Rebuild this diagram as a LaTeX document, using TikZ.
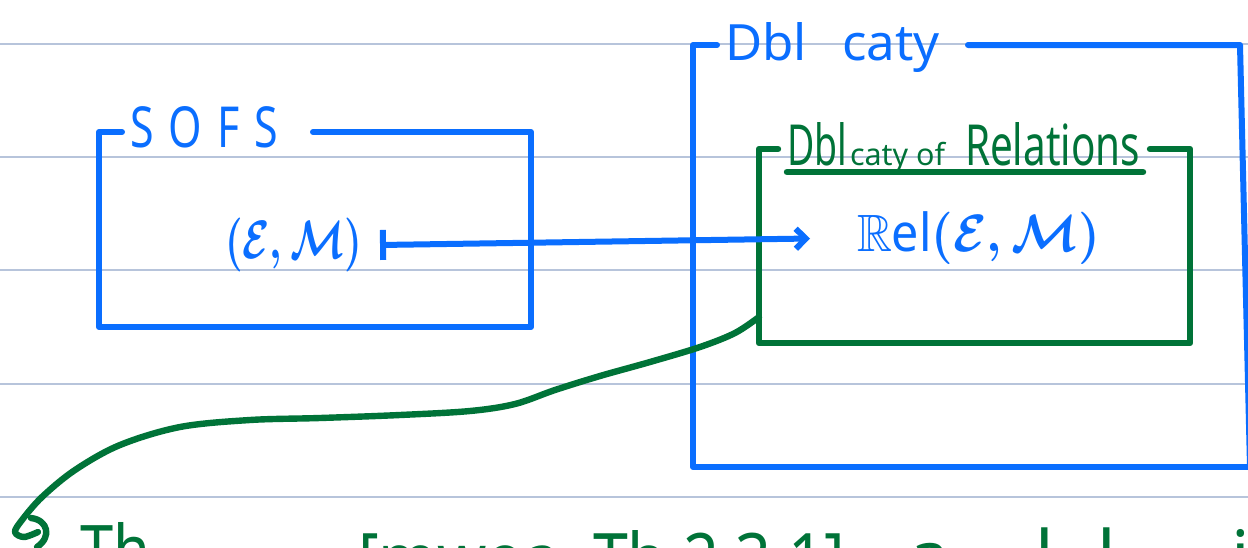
\documentclass[tikz,border=0pt]{standalone}
\usepackage{amssymb}
\usepackage{graphicx}
\usepackage{fontspec}
\setmainfont{Noto Sans}
\usetikzlibrary{arrows.meta,calc}
\definecolor{penblue}{RGB}{10,110,255}
\definecolor{pengreen}{RGB}{0,115,56}
\definecolor{ruling}{RGB}{183,196,219}

\begin{document}
\begin{tikzpicture}[x=0.5pt,y=-0.5pt,
  bluepen/.style={draw=penblue, line width=3pt, line cap=round, line join=round},
  greenpen/.style={draw=pengreen, line width=3.2pt, line cap=round, line join=round},
  ruled/.style={draw=ruling, line width=1pt},
  frame/.style={inner sep=0pt, outer sep=0pt, draw=none},
  lbl/.style={inner sep=0pt, outer sep=0pt, font=\bfseries\boldmath},
  bluetext/.style={lbl, text=penblue},
  greentext/.style={lbl, text=pengreen}]
\useasboundingbox (0,0) rectangle (1248,547);
\fill[white] (0,0) rectangle (1248,547);

% ruled paper
\foreach \yy in {44,157,270,384,497}
  \draw[ruled] (0,\yy) -- (1248,\yy);

% --- SOFS frame ---
\node[frame, minimum width=216pt, minimum height=97.5pt] (sofs) at (315,229.5) {};
\node[bluetext, anchor=base west] (sofsT) at (130,147)
  {\resizebox{74pt}{20.5pt}{S\hspace{0.35em}O\hspace{0.35em}F\hspace{0.35em}S}};
\coordinate (sofsL) at ([xshift=-4pt]sofsT.west);
\coordinate (sofsR) at ([xshift=17.5pt]sofsT.east);
\draw[bluepen] (sofsL |- sofs.north) -- (sofs.north west) -- (sofs.south west)
  -- (sofs.south east) -- (sofs.north east) -- (sofsR |- sofs.north);

% --- Dbl caty frame ---
\node[frame, minimum width=278.5pt, minimum height=211pt] (dbl) at (971.5,256) {};
\node[bluetext, anchor=base west] (dblT) at (725,60)
  {\resizebox{107.5pt}{19pt}{Dbl\hspace{0.7em}caty}};
\coordinate (dblL) at ([xshift=-4pt]dblT.west);
\coordinate (dblR) at ([xshift=14pt]dblT.east);
\draw[bluepen] (dblL |- dbl.north) -- (dbl.north west) -- (dbl.south west) -- (dbl.south east);
\draw[bluepen] (dblR |- dbl.north) -- ([xshift=-5pt]dbl.north east) -- (dbl.south east);

% --- Dbl caty of Relations frame ---
\node[frame, minimum width=215.5pt, minimum height=97pt] (grel) at (974.5,246) {};
\node[greentext, anchor=base west] (grelT) at (787,165)
  {\resizebox{30pt}{21.5pt}{Dbl}\hspace{1.5pt}%
   \resizebox{47.5pt}{!}{caty of}\hspace{10pt}%
   \resizebox{87.5pt}{21.5pt}{Relations}};
\draw[greenpen] ($(grelT.base west)+(0,7)$) -- ($(grelT.base east)+(3,7)$);
\coordinate (grelL) at ([xshift=-4.5pt]grelT.west);
\coordinate (grelR) at ([xshift=5pt]grelT.east);
\draw[greenpen] (grelL |- grel.north) -- (grel.north west) -- (grel.south west)
  -- (grel.south east) -- (grel.north east) -- (grelR |- grel.north);

% --- objects and the assignment ---
\node[bluetext, anchor=west] (src) at (225,245)
  {\resizebox*{68.5pt}{27pt}{$(\mathcal{E},\mathcal{M})$}};
\node[bluetext, anchor=west] (tgt) at (857,238.5)
  {\resizebox*{121.5pt}{26.5pt}{$\mathbb{R}$el$(\mathcal{E},\mathcal{M})$}};
\draw[bluepen, {Bar[width=15pt,line width=3pt]}-{Straight Barb[length=5pt,width=10pt,line width=3pt]}]
  ([xshift=9pt]src.east) -- ([xshift=-23.5pt]tgt.west);

% --- statement below the frames (runs off the page) ---
\begin{scope}
\clip (0,0) rectangle (1248,547);
\node[greentext, anchor=base west] (thm) at (80,574)
  {\resizebox{35pt}{26pt}{Th}};
\node[greentext, anchor=base west] (cite) at (358,584)
  {\resizebox{243.5pt}{27pt}{[mwoa, Th 2.3.1]}};
\node[greentext, anchor=base west] (tail) at (909,582)
  {\fontsize{36}{40}\selectfont a\hspace{1.2em}l\hspace{0.6em}l\hspace{1.6em}i};
\end{scope}

% --- hooked connector from the relations frame down to the statement ---
\coordinate (cstart) at ([yshift=13pt]grel.south west);
\coordinate (ctip) at ([xshift=-21pt,yshift=21pt]thm.base west);
\draw[greenpen] plot[smooth, tension=0.55] coordinates {
  (cstart) (735,333) (700,347) (650,362) (600,376) (555,390) (515,404)
  (470,411) (400,415) (320,418) (250,420) (180,427) (120,445) (75,470)
  (42,497) (22,520) (15,532) (24,537) (ctip)};
\draw[greenpen] (31,518) .. controls (48,520) and (52,537) .. (37,547);
\end{tikzpicture}
\end{document}
